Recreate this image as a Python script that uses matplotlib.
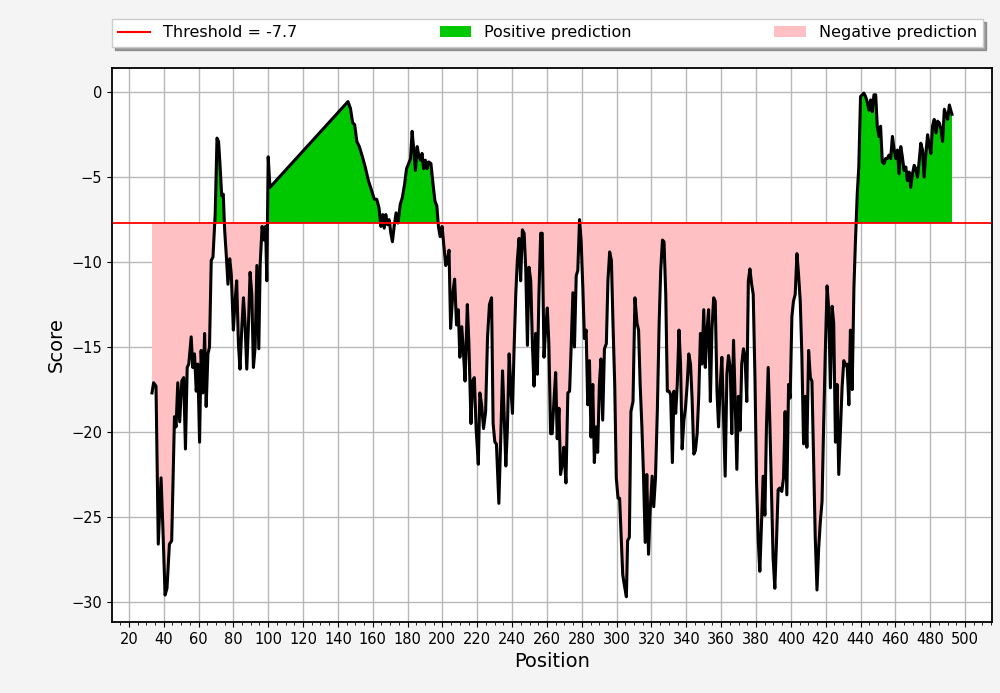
import matplotlib
matplotlib.use("Agg")
import numpy as np
import matplotlib.pyplot as plt
from matplotlib.lines import Line2D
from matplotlib.patches import Patch
from matplotlib.ticker import MultipleLocator

threshold = -7.7

position = [
    33.3, 34.2, 35.6, 36.9, 38.5, 39.6, 40.8, 41.9, 43.3, 44.6, 46.2, 47.1, 48.1, 49.2, 50.4,
    51.5, 52.5, 53.5, 54.4, 55.8, 56.7, 57.7, 58.7, 59.6, 60.6, 61.5, 62.5, 63.5, 64.4, 65.4,
    66.3, 67.3, 68.3, 69.6, 70.6, 71.5, 72.3, 73.3, 74.2, 75.0, 76.0, 76.9, 77.9, 78.8, 80.0,
    81.0, 81.9, 82.9, 83.8, 84.8, 85.8, 86.7, 87.7, 88.7, 89.6, 90.6, 91.5, 92.5, 93.5, 94.6,
    95.4, 96.5, 97.5, 98.5, 99.2, 100.0, 101.0,
    145.8, 147.2, 148.5, 149.6, 150.9, 152.3, 153.8, 155.7, 157.5, 159.4, 160.9, 162.3, 163.6,
    164.7, 165.7, 166.6, 167.5, 168.5, 169.4, 170.4, 171.3, 172.3, 173.4, 174.5, 175.8, 177.0,
    178.3, 179.4, 180.6, 181.7, 182.6, 183.6, 184.5, 185.5, 186.4, 187.4, 188.3, 189.2, 190.2,
    191.1, 192.1, 193.4, 194.5, 195.7, 196.8, 197.7, 198.7, 199.8, 200.9, 201.9, 202.8, 203.8,
    204.7, 206.0, 207.0, 208.1, 209.1, 210.0, 211.1,
    212.0, 213.0, 214.3, 215.2, 216.4, 217.3, 218.3, 219.4, 220.6, 221.5, 222.5, 223.6, 224.8,
    225.9, 227.0, 228.2, 229.1, 230.1, 231.0, 232.4, 233.5, 234.5, 235.4, 236.4, 237.3, 238.3,
    239.2, 240.2, 241.1, 242.1, 243.0, 244.0, 244.9, 245.9, 246.9, 247.8, 248.8, 249.7, 250.7,
    251.7, 252.6, 253.5, 254.5, 255.4, 256.4, 257.3, 258.3, 259.2, 260.2, 261.1, 262.1, 263.0,
    264.0, 265.0, 265.9, 266.9, 267.8, 268.8, 269.7, 270.9, 272.0, 273.0, 273.9, 274.9, 275.8,
    276.8, 277.7, 278.7, 279.6, 280.6, 281.5, 282.5, 283.4, 284.4, 285.3, 286.3, 287.2, 288.2,
    289.1, 290.1, 291.0, 292.0, 293.0, 294.1, 295.0, 296.0, 297.0, 297.9, 298.9, 299.8, 300.8,
    301.7,
    303.5, 304.4, 305.6, 306.3, 307.3, 308.2, 309.4, 310.5, 311.7, 312.6, 313.5, 314.5, 315.4,
    316.4, 317.3, 318.3, 319.2, 320.4, 321.3, 322.3, 323.4, 324.4, 325.3, 326.3, 327.2, 328.2,
    329.1, 330.1, 331.0, 332.0, 332.9, 333.9, 334.8, 335.8, 336.7, 337.6, 338.6, 339.5, 340.5,
    341.4, 342.4, 343.3, 344.3, 345.2, 346.2, 347.1, 348.1, 349.0, 350.0, 350.9, 351.9, 352.8,
    353.8, 354.7, 355.7, 356.6, 357.6, 358.5, 359.5, 360.4, 361.4, 362.3, 363.3, 364.2, 365.2,
    366.1, 367.1, 368.0, 369.0, 369.9, 370.9, 371.8, 372.8, 373.7, 374.7, 375.6, 376.5, 377.5,
    378.4, 379.4, 380.3, 381.3, 382.2, 383.2, 384.1, 385.1, 386.0, 387.0, 387.9, 388.9, 389.8,
    390.8, 391.7, 392.7, 393.6,
    394.8, 395.8, 396.7, 397.7, 398.7, 399.6, 400.6, 401.5, 402.5, 403.5, 404.4, 405.4, 406.3,
    407.3, 408.3, 409.2, 410.2, 411.2, 412.1, 413.1, 414.0, 415.0, 416.0, 416.9, 417.9, 418.8,
    419.8, 420.8, 421.7, 422.7, 423.7, 424.6, 425.6, 426.5, 427.5, 428.5, 429.4, 430.4, 431.3,
    432.3, 433.3, 434.2, 435.2, 436.2, 437.1, 438.1, 439.0, 440.0, 441.0, 441.9, 442.9, 443.8,
    444.8, 445.8, 446.7, 447.7, 448.7, 449.6, 450.6, 451.5, 452.5, 453.5, 454.4, 455.4, 456.3,
    457.3, 458.3, 459.2, 460.2, 461.2, 462.1, 463.1, 464.0, 465.0, 466.0, 466.9, 467.9, 468.8,
    469.8, 470.8, 471.7, 472.7, 473.7, 474.6, 475.6, 476.5, 477.5, 478.5, 479.4, 480.4, 481.3,
    482.3, 483.3, 484.2, 485.2, 486.2, 487.1, 488.1, 489.0, 490.0, 491.0, 491.9, 492.5,
]

score = [
    -17.7, -17.1, -17.3, -26.6, -22.7, -25.8, -29.6, -29.2, -26.6, -26.4, -19.1, -19.7, -17.1, -19.4, -17.0,
    -16.8, -21.0, -16.2, -16.0, -14.4, -16.2, -15.4, -17.6, -16.0, -20.6, -15.2, -17.7, -14.2, -18.5, -15.4,
    -15.0, -9.9, -9.7, -7.1, -2.7, -2.9, -4.2, -6.1, -6.0, -8.1, -9.7, -11.3, -9.8, -10.7, -14.0,
    -12.3, -11.1, -14.8, -16.3, -14.0, -12.1, -13.6, -16.3, -13.6, -10.6, -11.9, -16.2, -15.0, -10.2, -15.1,
    -10.1, -7.9, -8.7, -7.9, -11.1, -3.8, -5.6,
    -0.55, -0.95, -1.8, -1.9, -2.9, -3.2, -3.7, -4.4, -5.2, -5.8, -6.3, -6.3, -6.8,
    -7.9, -7.2, -8.0, -7.2, -7.8, -7.5, -8.3, -8.8, -7.9, -7.1, -7.7, -6.6, -6.2,
    -5.4, -4.5, -4.2, -3.9, -2.3, -3.4, -4.6, -3.2, -3.7, -4.0, -3.6, -4.5, -4.0,
    -4.5, -4.1, -4.2, -5.3, -6.4, -6.7, -7.9, -8.5, -7.9, -9.1, -10.2, -9.9, -9.3,
    -13.9, -11.8, -11.0, -13.7, -12.8, -15.6, -13.8,
    -15.2, -17.0, -12.5, -14.8, -19.5, -17.0, -16.8, -19.9, -21.9, -17.7, -18.4, -19.8, -18.8,
    -14.4, -12.5, -12.1, -19.5, -20.6, -20.7, -24.2, -20.3, -16.4, -18.9, -22.0, -19.8, -15.4,
    -17.3, -18.9, -15.2, -11.9, -9.9, -8.6, -11.1, -8.1, -8.3, -10.3, -14.9, -10.3, -11.1,
    -15.0, -17.3, -14.2, -16.6, -11.9, -8.3, -8.3, -15.6, -14.0, -12.7, -14.8, -20.1, -20.1,
    -18.2, -16.5, -20.4, -18.6, -22.5, -21.9, -20.9, -23.0, -17.7, -17.6, -15.0, -11.8, -15.0,
    -10.8, -10.5, -7.5, -8.7, -11.5, -14.5, -14.0, -18.4, -15.8, -20.3, -17.2, -21.8, -19.7,
    -21.2, -17.2, -15.7, -19.3, -15.1, -14.8, -11.1, -9.4, -9.9, -13.6, -17.2, -22.7, -23.9,
    -23.9,
    -28.4, -29.0, -29.7, -26.4, -26.2, -18.8, -18.2, -12.1, -13.6, -14.0, -17.2, -19.7, -22.5,
    -26.5, -22.5, -27.2, -24.7, -22.6, -24.4, -22.7, -18.6, -13.6, -10.5, -8.7, -8.8, -11.9,
    -17.6, -17.6, -17.8, -21.8, -17.6, -18.9, -17.2, -14.0, -16.0, -21.0, -19.3, -18.6, -17.2,
    -15.4, -16.0, -18.0, -21.3, -21.1, -20.1, -18.0, -14.2, -16.0, -12.8, -16.2, -14.0, -12.8,
    -18.2, -14.0, -12.1, -12.3, -17.6, -19.7, -17.2, -15.6, -19.3, -22.6, -16.6, -15.5, -16.2,
    -20.1, -14.6, -18.0, -22.2, -17.9, -19.9, -16.0, -15.1, -15.6, -18.2, -11.1, -10.4, -11.3,
    -11.9, -16.8, -22.9, -26.4, -28.2, -25.2, -22.6, -24.9, -19.7, -16.2, -19.3, -23.7, -27.4,
    -29.2, -26.6, -23.4, -23.3,
    -23.5, -22.7, -18.8, -23.7, -17.2, -18.0, -13.2, -12.3, -11.9, -9.5, -10.7, -12.3, -15.4,
    -20.7, -17.9, -20.9, -15.2, -16.8, -17.0, -21.9, -26.2, -29.3, -26.8, -25.3, -24.1, -19.7,
    -15.2, -11.4, -12.7, -17.4, -12.6, -13.6, -20.6, -17.2, -22.5, -19.9, -17.4, -15.8, -16.1,
    -16.0, -18.4, -14.0, -17.5, -11.5, -8.7, -6.0, -4.4, -0.25, -0.15, -0.05, -0.25, -0.55,
    -1.05, -0.45, -1.15, -0.15, -0.15, -2.0, -2.6, -2.0, -4.1, -4.2, -3.9, -3.9, -3.7,
    -3.9, -2.6, -3.3, -3.9, -3.4, -4.8, -3.2, -3.8, -4.6, -4.4, -5.2, -4.7, -5.6,
    -4.8, -4.3, -4.5, -5.0, -4.0, -3.0, -3.4, -5.0, -3.6, -2.5, -3.1, -3.6, -2.0,
    -1.6, -2.4, -1.7, -1.8, -2.2, -2.9, -1.0, -1.3, -1.6, -0.75, -1.1, -1.3,
]

x = np.array(position)
y = np.array(score)

fig = plt.figure(figsize=(10, 6.93), dpi=100, facecolor="#f4f4f4")
ax = fig.add_axes([0.112, 0.1025, 0.88, 0.7995])

# 阈值上方为绿色，下方为粉色
ax.fill_between(x, y, threshold, where=y >= threshold, interpolate=True,
                color="#00c800", linewidth=0)
ax.fill_between(x, y, threshold, where=y <= threshold, interpolate=True,
                color="#ffc0c4", linewidth=0)
ax.plot(x, y, color="black", linewidth=2.2)
ax.axhline(threshold, color="red", linewidth=1.3)

ax.xaxis.set_major_locator(MultipleLocator(20))
ax.xaxis.set_minor_locator(MultipleLocator(5))
ax.yaxis.set_major_locator(MultipleLocator(5))
ax.grid(True, which="major", color="#b8b8b8", linewidth=1)
ax.set_axisbelow(True)
for s in ax.spines.values():
    s.set_linewidth(1.3)

ax.tick_params(axis="both", labelsize=10.5)
ax.set_xlabel("Position", fontsize=14)
ax.set_ylabel("Score", fontsize=14)

handles = [
    Line2D([0], [0], color="red", linewidth=1.5),
    Patch(facecolor="#00c800"),
    Patch(facecolor="#ffc0c4"),
]
labels = ["Threshold = -7.7", "Positive prediction", "Negative prediction"]
ax.legend(handles, labels, loc="lower left", bbox_to_anchor=(0, 1.038, 0.99, 0.06),
          mode="expand", ncol=3, fontsize=11.5, shadow=True, fancybox=False,
          framealpha=1, borderaxespad=0)

fig.savefig("out.png", dpi=100, facecolor=fig.get_facecolor())
